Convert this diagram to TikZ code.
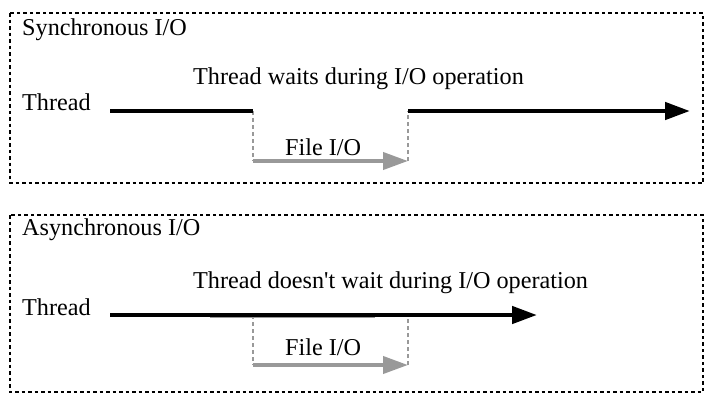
\documentclass[tikz,border=0pt]{standalone}
\usepackage{fontspec}
\setmainfont{Liberation Serif}[Ligatures=TeXOff]
\usetikzlibrary{arrows.meta}
\begin{document}
\begin{tikzpicture}[x=1pt,y=-1pt,
  lbl/.style={anchor=base west,inner sep=0pt,font=\fontsize{24.2}{28}\selectfont},
  frame/.style={draw=black,line width=2.8pt,dash pattern=on 3.5pt off 3pt},
  thread/.style={draw=black,line width=4.5pt},
  threadarrow/.style={thread,-{Triangle[length=25pt,width=17pt]}},
  fileio/.style={draw=black!40,line width=4pt,-{Triangle[length=25pt,width=17pt]}},
  guide/.style={draw=black!40,line width=2.5pt,dash pattern=on 4pt off 3pt}]
\useasboundingbox (0,0) rectangle (714,400);
% Synchronous
\draw[frame] (10,13) rectangle (703,183);
\node[lbl] (t1) at (22,35) {Synchronous I/O};
\node[lbl] (w1) at (193,84) {Thread waits during I/O operation};
\node[lbl] (th1) at (22,110) {Thread};
\node[lbl] (f1) at (285,155) {File I/O};
\coordinate (a1) at (110,111);
\coordinate (b1) at (253,111);
\coordinate (c1) at (253,161);
\coordinate (d1) at (408,161);
\coordinate (e1) at (408,111);
\coordinate (g1) at (690,111);
\draw[guide] (b1) -- (c1);
\draw[guide] (d1) -- (e1);
\draw[fileio] (c1) -- (d1);
\draw[thread] (a1) -- (b1);
\draw[threadarrow] (e1) -- (g1);
% Asynchronous
\draw[frame] (10,215) rectangle (703,392);
\node[lbl] (t2) at (22,235) {Asynchronous I/O};
\node[lbl] (w2) at (193,288) {Thread doesn't wait during I/O operation};
\node[lbl] (th2) at (22,315) {Thread};
\node[lbl] (f2) at (285,355) {File I/O};
\coordinate (a2) at (110,315);
\coordinate (b2) at (253,315);
\coordinate (c2) at (253,365);
\coordinate (d2) at (408,365);
\coordinate (e2) at (408,315);
\coordinate (g2) at (537,315);
\coordinate (h2) at (210,316.2);
\coordinate (i2) at (375,316.2);
\draw[guide] (b2) -- (c2);
\draw[guide] (d2) -- (e2);
\draw[fileio] (c2) -- (d2);
\draw[draw=black!40,line width=3pt] (h2) -- (i2);
\draw[threadarrow] (a2) -- (g2);
\end{tikzpicture}
\end{document}
